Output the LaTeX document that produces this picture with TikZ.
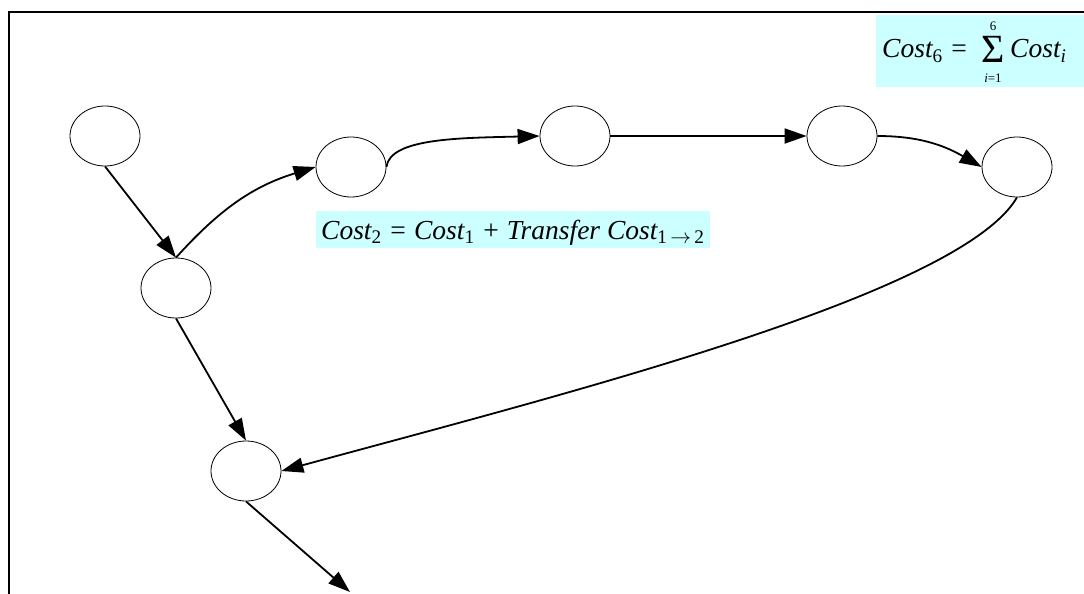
\documentclass[tikz,border=0pt]{standalone}
\usepackage{fontspec}
\setmainfont{Liberation Serif}
\usetikzlibrary{shapes.geometric,arrows.meta}
\definecolor{boxcyan}{RGB}{204,255,255}
\newcommand\sbs[1]{\textsubscript{\upshape #1}}
\begin{document}
\begin{tikzpicture}[x=1pt,y=-1pt,
  state/.style={draw,ellipse,line width=0.8pt,minimum width=70pt,minimum height=60pt,inner sep=0pt},
  edge/.style={line width=1.8pt,-{Triangle[length=22pt,width=15pt]}},
  formula/.style={font=\fontsize{27.5}{30}\selectfont\itshape,inner sep=0pt,anchor=base west},
  limit/.style={font=\fontsize{13}{13}\selectfont,inner sep=0pt,anchor=base,text height=9pt,text depth=0pt},
  sigma/.style={font=\fontsize{40}{40}\selectfont,inner sep=0pt,anchor=base,text height=27pt,text depth=0pt}]
\useasboundingbox (0,0) rectangle (1084,594);
% boxes
\fill[boxcyan] (876,15) rectangle (1084,87);
\fill[boxcyan] (316,211) rectangle (710,248);
% frame
\draw[line width=2pt] (9,594) -- (9,12) -- (1084,12);
% nodes
\node[state] (A) at (105,136) {};
\node[state] (B) at (176,288) {};
\node[state] (C) at (351,167) {};
\node[state] (D) at (575,136) {};
\node[state] (E) at (842,136) {};
\node[state] (F) at (1017,167) {};
\node[state] (G) at (246,471) {};
\coordinate (out) at (350,592);
% labels
\node[formula] (L2) at (321,239) {Cost\sbs{2} = Cost\sbs{1} + Transfer Cost\sbs{1\,$\rightarrow$\,2}};
\node[formula] (L6a) at (882,58) {Cost\sbs{6} =};
\node[sigma] (S) at (993,63) {Σ};
\node[limit] (Stop) at (993,31) {6};
\node[limit] (Sbot) at (993,82) {\itshape i\upshape =1};
\node[formula] (L6b) at (1010,58) {Cost\textsubscript{\itshape i}};
% edges
\draw[edge] (A.south) -- (B.north);
\draw[edge] (B.north) to[out=48,in=197] (C.west);
\draw[edge] (C.east) .. controls (390,138) and (460,138) .. (D.west);
\draw[edge] (D.east) -- (E.west);
\draw[edge] (E.east) to[out=0,in=150] (F.west);
\draw[edge] (F.south) .. controls (960,295) and (560,395) .. (G.east);
\draw[edge] (B.south) -- (G.north);
\draw[edge] (G.south) -- (out);
\end{tikzpicture}
\end{document}
